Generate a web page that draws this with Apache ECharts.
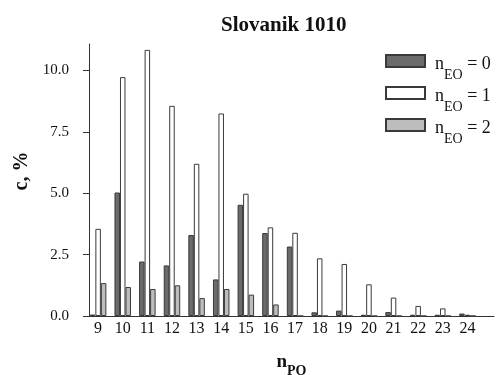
<!DOCTYPE html>
<html>
<head>
<meta charset="utf-8">
<script src="https://cdn.jsdelivr.net/npm/echarts@6/dist/echarts.min.js"></script>
<style>html,body{margin:0;padding:0;background:#fff;}#c{width:496px;height:375px;}</style>
</head>
<body>
<div id="c"></div>
<script>
const categories = [9,10,11,12,13,14,15,16,17,18,19,20,21,22,23,24];
const nEO0 = [0.06,5.03,2.22,2.06,3.30,1.49,4.53,3.38,2.83,0.15,0.22,0.05,0.16,0.05,0.05,0.10];
const nEO1 = [3.55,9.73,10.84,8.56,6.20,8.25,4.98,3.61,3.39,2.35,2.12,1.29,0.75,0.41,0.31,0.05];
const nEO2 = [1.34,1.18,1.10,1.25,0.73,1.10,0.87,0.47,0,0,0,0,0,0,0,0];
const yTicks = [0,2.5,5,7.5,10];
const seriesNames = ['n_EO = 0','n_EO = 1','n_EO = 2'];

const FONT = '"Liberation Serif","Times New Roman",serif';
const colors = ['#6b6b6b','#ffffff','#bdbdbd'];
const dataSets = [nEO0,nEO1,nEO2];

const chart = echarts.init(document.getElementById('c'), null, {renderer:'canvas'});
chart.setOption({
  animation:false,
  backgroundColor:'#fff',
  title:{
    text:'Slovanik 1010', left:221, top:15, padding:0,
    textStyle:{fontFamily:FONT,fontWeight:'bold',fontSize:21,color:'#111'}
  },
  legend:{
    orient:'vertical', left:385, top:52, padding:0, itemGap:1.5,
    itemWidth:39, itemHeight:12, icon:'rect',
    data:seriesNames,
    formatter:function(name){ const v=name.split(' = ')[1]; return '{a|n}{s|EO}{n| = '+v+'}'; },
    textStyle:{
      fontFamily:FONT,color:'#111',
      rich:{
        a:{fontFamily:FONT,fontSize:18,lineHeight:18,color:'#111',verticalAlign:'top',padding:[3.5,0,0,5]},
        n:{fontFamily:FONT,fontSize:18,lineHeight:18,color:'#111',verticalAlign:'top',padding:[3.5,0,0,0]},
        s:{fontFamily:FONT,fontSize:14,lineHeight:14,color:'#111',verticalAlign:'top',padding:[16.5,0,0,0]}
      }
    }
  },
  grid:{left:89,right:2,top:44,bottom:59,containLabel:false,outerBoundsMode:'none'},
  xAxis:{
    type:'value', min:8.63, max:25.08,
    axisLine:{show:true,lineStyle:{color:'#333',width:1}},
    axisTick:{show:false},
    splitLine:{show:false},
    axisLabel:{customValues:categories,margin:5,fontFamily:FONT,fontSize:16,color:'#111'},
    name:'{n|n}{s|PO}', nameLocation:'middle', nameGap:37,
    nameTextStyle:{
      rich:{
        n:{fontFamily:FONT,fontSize:19,fontWeight:'bold',lineHeight:19,color:'#111',verticalAlign:'top'},
        s:{fontFamily:FONT,fontSize:14,fontWeight:'bold',lineHeight:14,color:'#111',verticalAlign:'top',padding:[11,0,0,0]}
      }
    }
  },
  yAxis:{
    type:'value', min:0, max:11.08,
    axisLine:{show:true,lineStyle:{color:'#333',width:1}},
    axisTick:{show:true,length:6,customValues:yTicks,lineStyle:{color:'#333'}},
    splitLine:{show:false},
    axisLabel:{customValues:yTicks,margin:20,fontFamily:FONT,fontSize:15,color:'#111',
      formatter:function(v){return Number(v).toFixed(1);}}
  },
  graphic:[{
    type:'text', x:22, y:171, rotation:Math.PI/2,
    style:{text:'c, %',fontFamily:FONT,fontSize:20,fontWeight:'bold',fill:'#111',align:'center',verticalAlign:'middle'}
  }],
  series:dataSets.map(function(arr,i){
    return {
      name:seriesNames[i], type:'bar', barWidth:5.5, barGap:'0%',
      data:categories.map(function(c,j){return [c,arr[j]];}),
      itemStyle:{color:colors[i],borderColor:'#3a3a3a',borderWidth:1}
    };
  })
});
</script>
</body>
</html>
